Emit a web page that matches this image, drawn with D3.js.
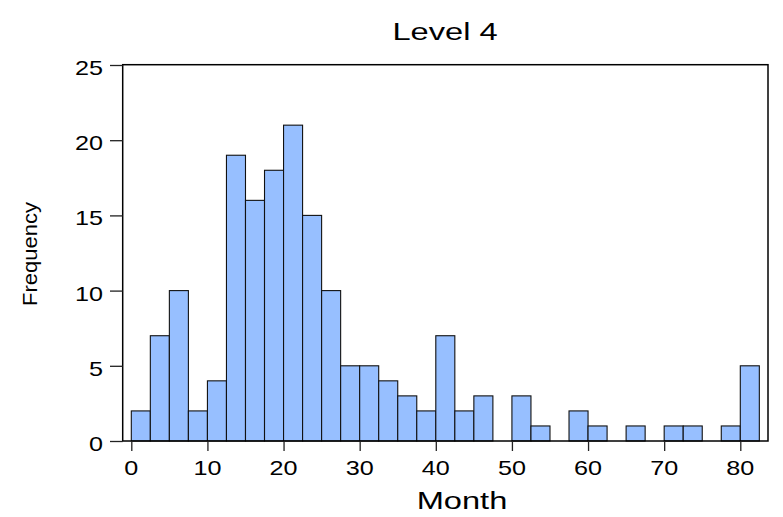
<!DOCTYPE html>
<html>
<head>
<meta charset="utf-8">
<script src="https://cdn.jsdelivr.net/npm/d3@7/dist/d3.min.js"></script>
<style>
  html, body { margin: 0; padding: 0; background: #fff; }
  svg { display: block; }
  text { font-family: "Liberation Sans", Arial, Helvetica, sans-serif; fill: #000; }
</style>
</head>
<body>
<svg id="chart" width="783" height="517"></svg>
<script>
// Histogram of months, 2.5-month bins
const binStarts = [0, 2.5, 5, 7.5, 10, 12.5, 15, 17.5, 20, 22.5, 25, 27.5, 30, 32.5, 35, 37.5,
                   40, 42.5, 45, 47.5, 50, 52.5, 55, 57.5, 60, 62.5, 65, 67.5, 70, 72.5, 75, 77.5, 80];
const binWidth = 2.5;
const counts = [2, 7, 10, 2, 4, 19, 16, 18, 21, 15, 10, 5, 5, 4, 3, 2,
                7, 2, 3, 0, 3, 1, 0, 2, 1, 0, 1, 0, 1, 1, 0, 1, 5];
const xTicks = [0, 10, 20, 30, 40, 50, 60, 70, 80];
const yTicks = [0, 5, 10, 15, 20, 25];
const title = "Level 4";
const xTitle = "Month";
const yTitle = "Frequency";

const svg = d3.select("#chart");

const frame = { left: 122.7, right: 768, top: 64.7, bottom: 441 };
const x = d3.scaleLinear().domain([0, 80]).range([131.3, 740.3]);
const y = d3.scaleLinear().domain([0, 25]).range([441, 65]);

const bins = binStarts.map((s, i) => ({ x0: s, x1: s + binWidth, n: counts[i] }));

// bars
svg.append("g")
  .selectAll("rect")
  .data(bins)
  .join("rect")
  .attr("x", d => x(d.x0))
  .attr("y", d => y(d.n))
  .attr("width", d => x(d.x1) - x(d.x0))
  .attr("height", d => y(0) - y(d.n))
  .attr("fill", "#97bfff")
  .attr("stroke", d => d.n === 0 ? "#666" : "#111")
  .attr("stroke-width", 1.1);

// plot frame
svg.append("rect")
  .attr("x", frame.left).attr("y", frame.top)
  .attr("width", frame.right - frame.left)
  .attr("height", frame.bottom - frame.top)
  .attr("fill", "none").attr("stroke", "#000").attr("stroke-width", 1.5);

// stretched text helper
function label(g, txt, px, py, size, sx, anchor, rot) {
  const t = g.append("g").attr("transform", `translate(${px},${py})` + (rot ? ` rotate(${rot})` : ""));
  t.append("text")
    .attr("transform", `scale(${sx},1)`)
    .attr("text-anchor", anchor)
    .style("font-size", size + "px")
    .text(txt);
}

// x axis
const xAxis = svg.append("g")
  .attr("transform", `translate(0,${frame.bottom})`)
  .call(d3.axisBottom(x).tickValues(xTicks).tickSize(10).tickFormat(""));
xAxis.select(".domain").remove();
xAxis.selectAll(".tick line").attr("stroke", "#222").attr("stroke-width", 1.3);
xTicks.forEach(v => label(svg, String(v), x(v), 475, 20, 1.26, "middle"));

// y axis
const yAxis = svg.append("g")
  .attr("transform", `translate(${frame.left},0)`)
  .call(d3.axisLeft(y).tickValues(yTicks).tickSize(12.7).tickFormat(""));
yAxis.select(".domain").remove();
yAxis.selectAll(".tick line").attr("stroke", "#222").attr("stroke-width", 1.3);
yTicks.forEach(v => label(svg, String(v), 103, y(v) + 10, 20, 1.26, "end"));

// titles
label(svg, title, 445, 40, 24, 1.36, "middle");
label(svg, xTitle, 462, 509.3, 24, 1.36, "middle");
label(svg, yTitle, 37, 254, 20, 1.1, "middle", -90);
</script>
</body>
</html>
